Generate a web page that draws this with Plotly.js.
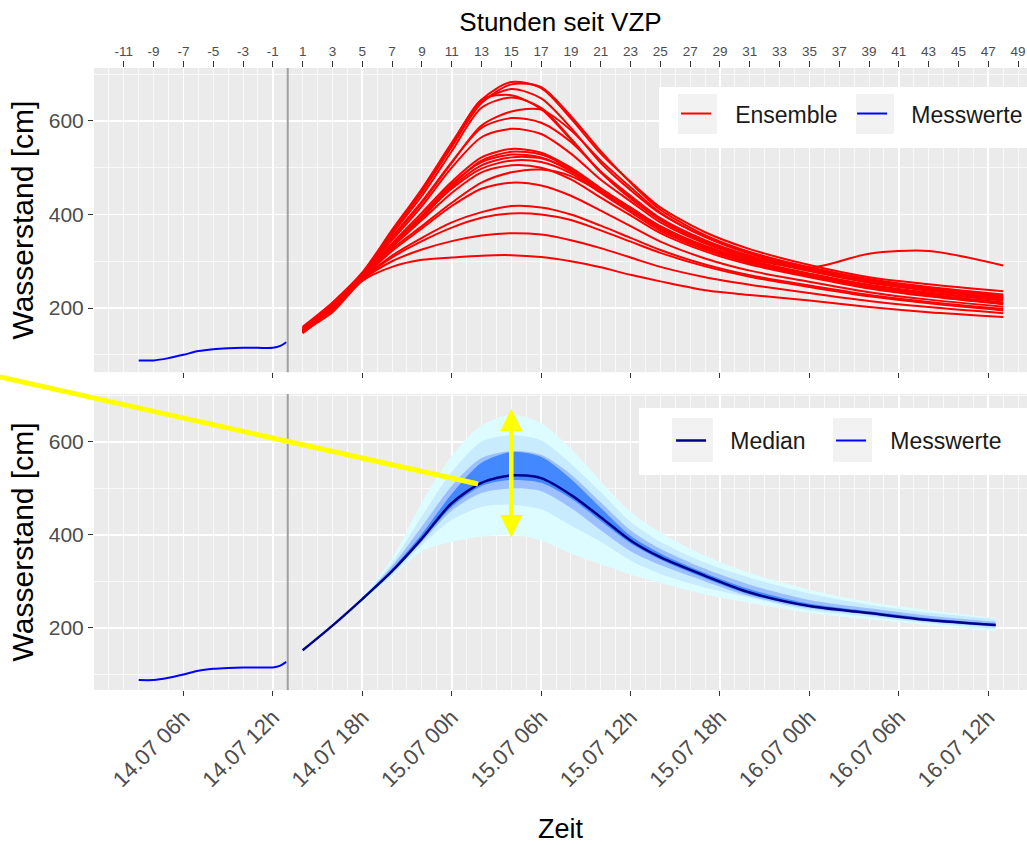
<!DOCTYPE html>
<html>
<head>
<meta charset="utf-8">
<script src="https://cdn.plot.ly/plotly-3.0.1.min.js"></script>
<style>html,body{margin:0;padding:0;background:#fff;}#chart{width:1027px;height:845px;}</style>
</head>
<body>
<div id="chart"></div>
<script>
// ---------------- data (hours relative to VZP = 14.07 13h) ----------------
const vzpHour = 0;

const messHours  = [-10, -9, -8, -7, -6, -5, -4, -3, -2, -1, -0.5, -0.1];
const messValues = [88, 88, 93, 100, 108, 112, 114, 115, 115, 115, 119, 127];

const ensHours = [1, 3, 5, 7, 9, 11, 13, 15, 17, 19, 21, 23, 25, 28, 31, 35, 39, 43, 48];
const ens01 = [160,212,276,367,455,553,645,683,670,605,530,470,415,362,326,292,266,251,236];
const ens02 = [155,207,272,362,448,545,638,678,672,610,535,468,410,356,320,287,262,245,229];
const ens03 = [158,210,274,365,450,545,640,668,648,585,510,452,402,352,318,286,260,243,226];
const ens04 = [152,205,270,360,448,548,645,655,625,560,490,436,390,343,311,281,256,239,222];
const ens05 = [157,209,273,358,440,535,628,650,628,562,490,434,388,341,310,280,255,238,221];
const ens06 = [150,204,268,350,425,510,590,620,624,580,515,458,404,352,316,285,258,240,223];
const ens07 = [156,206,271,352,428,512,585,606,596,555,492,440,392,345,312,283,257,240,224];
const ens08 = [153,203,269,345,418,500,565,583,572,530,474,428,383,338,307,279,254,237,220];
const ens09 = [148,200,266,333,395,462,515,534,528,498,455,415,375,333,305,286,316,322,291];
const ens10 = [151,202,267,335,398,465,512,528,522,492,450,410,370,330,300,272,248,232,216];
const ens11 = [149,201,266,332,392,458,505,522,520,495,452,411,370,329,298,270,246,229,212];
const ens12 = [154,204,268,336,396,455,498,515,512,488,446,405,365,325,296,268,244,227,210];
const ens13 = [147,199,265,330,388,446,490,505,500,475,436,398,360,321,293,266,242,225,208];
const ens14 = [150,200,264,326,375,425,468,490,496,482,448,410,370,328,298,269,244,226,209];
const ens15 = [146,198,263,322,370,418,455,468,462,440,408,375,342,306,280,256,234,218,203];
const ens16 = [152,197,262,312,350,383,405,418,415,400,376,350,324,293,270,248,228,213,198];
const ens17 = [148,196,261,308,343,372,393,402,400,388,366,342,318,289,267,245,225,210,195];
const ens18 = [153,195,260,300,325,343,355,360,357,345,328,308,288,266,250,232,215,202,189];
const ens19 = [150,191,258,288,303,308,312,313,309,300,287,271,257,238,228,216,202,191,181];
const ens20 = [149,201,267,338,404,470,522,540,532,500,456,414,374,332,302,274,250,233,217];
const ensembleMembers = [ens01,ens02,ens03,ens04,ens05,ens06,ens07,ens08,ens09,ens10,
                         ens11,ens12,ens13,ens14,ens15,ens16,ens17,ens18,ens19,ens20];

const bandHours = [1, 3, 5, 7, 9, 11, 13, 15, 17, 19, 21, 23, 25, 28, 31, 35, 39, 43, 47.5];
const medianValues = [152,205,262,322,392,468,512,528,522,486,438,388,352,312,276,247,232,217,206];
const outerUpper = [153,207,268,350,470,570,635,658,640,585,515,450,405,355,318,282,256,238,222];
const outerLower = [151,203,255,310,365,385,396,400,388,360,337,315,297,272,254,232,218,206,192];
const lightUpper = [153,206,266,340,440,535,600,614,603,553,492,428,385,340,308,274,250,233,219];
const lightLower = [151,204,258,313,378,432,460,465,455,420,385,345,316,287,265,238,224,210,198];
const midUpper   = [153,206,264,333,418,505,565,580,572,530,470,410,370,327,293,260,242,226,213];
const midLower   = [152,204,260,318,385,452,490,500,494,458,410,365,335,300,268,242,228,213,202];
const innerUpper = [152,205,263,327,402,488,555,578,568,520,458,398,360,318,283,252,236,221,209];
const innerLower = [152,205,261,320,388,460,505,518,512,478,430,382,347,307,272,245,230,215,204];

const dateTickHours  = [-7, -1, 5, 11, 17, 23, 29, 35, 41, 47];
const dateTickLabels = ['14.07 06h','14.07 12h','14.07 18h','15.07 00h','15.07 06h',
                        '15.07 12h','15.07 18h','16.07 00h','16.07 06h','16.07 12h'];
const hourTickValues = [-11,-9,-7,-5,-3,-1,1,3,5,7,9,11,13,15,17,19,21,23,25,27,29,31,33,35,37,39,41,43,45,47,49];
const yTickValues = [200, 400, 600];

// ---------------- styling ----------------
const FONT = 'Liberation Sans, Arial, sans-serif';
const TICKGREY = '#4D4D4D';
const xRange = [-13.0, 49.6];
const spline = {shape: 'spline', smoothing: 0.8};
const NB = '\u00A0\u00A0\u00A0';

const traces = [];

// top panel: ensemble
ensembleMembers.forEach((vals, i) => {
  traces.push({
    x: ensHours, y: vals, xaxis: 'x', yaxis: 'y', type: 'scatter', mode: 'lines',
    line: Object.assign({color: '#FF0000', width: 2}, spline),
    name: NB + 'Ensemble', legendgroup: 'ens', showlegend: i === 0, legend: 'legend',
    hoverinfo: 'skip'
  });
});
traces.push({
  x: messHours, y: messValues, xaxis: 'x', yaxis: 'y', type: 'scatter', mode: 'lines',
  line: Object.assign({color: '#0000FF', width: 2}, spline),
  name: NB + 'Messwerte', legend: 'legend2'
});
// invisible carrier so that the top "hours" axis is drawn
traces.push({
  x: ensHours, y: ens19, xaxis: 'x3', yaxis: 'y', type: 'scatter', mode: 'lines',
  line: {width: 0}, opacity: 0, showlegend: false, hoverinfo: 'skip'
});

// bottom panel: bands
function band(lower, upper, color) {
  traces.push({x: bandHours, y: lower, xaxis: 'x2', yaxis: 'y2', type: 'scatter', mode: 'lines',
    line: Object.assign({width: 0, color: color}, spline), showlegend: false, hoverinfo: 'skip'});
  traces.push({x: bandHours, y: upper, xaxis: 'x2', yaxis: 'y2', type: 'scatter', mode: 'lines',
    line: Object.assign({width: 0, color: color}, spline), fill: 'tonexty', fillcolor: color,
    showlegend: false, hoverinfo: 'skip'});
}
band(outerLower, outerUpper, '#DDFCFF');
band(lightLower, lightUpper, '#C8ECFD');
band(midLower, midUpper, '#9CBFFF');
band(innerLower, innerUpper, '#4488FF');

traces.push({
  x: bandHours, y: medianValues, xaxis: 'x2', yaxis: 'y2', type: 'scatter', mode: 'lines',
  line: Object.assign({color: '#00008B', width: 2.5}, spline),
  name: NB + 'Median', legend: 'legend3'
});
traces.push({
  x: messHours, y: messValues, xaxis: 'x2', yaxis: 'y2', type: 'scatter', mode: 'lines',
  line: Object.assign({color: '#0000FF', width: 2}, spline),
  name: NB + 'Messwerte', legend: 'legend4'
});

const gridMinor = {tickmode: 'linear', tick0: 0, dtick: 1, showgrid: true, gridcolor: '#FFFFFF', gridwidth: 0.7, ticks: ''};
const yMinor = {tickmode: 'linear', tick0: 100, dtick: 200, showgrid: true, gridcolor: '#FFFFFF', gridwidth: 0.7, ticks: ''};

const baseX = {
  range: xRange, tickmode: 'array', tickvals: dateTickHours, ticktext: dateTickLabels,
  ticks: 'outside', ticklen: 5, tickwidth: 1, tickcolor: '#333333',
  showgrid: true, gridcolor: '#FFFFFF', gridwidth: 1.6, zeroline: false, showline: false,
  minor: gridMinor, tickfont: {family: FONT, size: 22, color: TICKGREY}
};
const baseY = {
  tickmode: 'array', tickvals: yTickValues, ticks: 'outside', ticklen: 5, tickwidth: 1, tickcolor: '#333333',
  showgrid: true, gridcolor: '#FFFFFF', gridwidth: 1.6, zeroline: false, showline: false,
  minor: yMinor, tickfont: {family: FONT, size: 21, color: TICKGREY},
  title: {text: 'Wasserstand [cm]', font: {family: FONT, size: 30, color: '#000'}, standoff: 6}
};

// legends and their decoration boxes (paper coordinates)
const legendFont = {family: FONT, size: 23, color: '#1A1A1A'};
const mkLegend = (x, y) => ({orientation: 'h', x: x, xanchor: 'left', y: y, yanchor: 'top',
  bgcolor: 'rgba(0,0,0,0)', borderwidth: 0, font: legendFont, itemwidth: 30});
const boxShape = (x0, x1, y0, y1, color) => ({type: 'rect', xref: 'paper', yref: 'paper',
  x0: x0, x1: x1, y0: y0, y1: y1, fillcolor: color, line: {width: 0}, layer: 'above'});

const layout = {
  width: 1027, height: 845,
  margin: {l: 94, r: 0, t: 68, b: 155, autoexpand: false},
  paper_bgcolor: '#FFFFFF', plot_bgcolor: '#EBEBEB',
  font: {family: FONT},
  xaxis: Object.assign({}, baseX, {anchor: 'y', showticklabels: false}),
  xaxis2: Object.assign({}, baseX, {anchor: 'y2', matches: 'x', tickangle: -45,
    title: {text: 'Zeit', font: {family: FONT, size: 27, color: '#000'}, standoff: 28}}),
  xaxis3: {
    overlaying: 'x', side: 'top', anchor: 'y', range: xRange,
    tickmode: 'array', tickvals: hourTickValues, ticktext: hourTickValues.map(String),
    ticks: 'outside', ticklen: 6, tickwidth: 1, tickcolor: '#333333',
    showgrid: false, zeroline: false, showline: false,
    tickfont: {family: FONT, size: 13.5, color: TICKGREY},
    title: {text: 'Stunden seit VZP', font: {family: FONT, size: 26, color: '#000'}, standoff: 4}
  },
  yaxis: Object.assign({}, baseY, {domain: [0.511, 1], range: [63, 713], anchor: 'x'}),
  yaxis2: Object.assign({}, baseY, {domain: [0, 0.476], range: [66.5, 703], anchor: 'x2'}),
  legend:  mkLegend(0.6238, 0.9613),
  legend2: mkLegend(0.8125, 0.9613),
  legend3: mkLegend(0.6185, 0.4356),
  legend4: mkLegend(0.7900, 0.4356),
  shapes: [
    {type: 'line', xref: 'x', yref: 'y domain', x0: vzpHour, x1: vzpHour, y0: 0, y1: 1,
     line: {color: '#A0A0A0', width: 2}, layer: 'above'},
    {type: 'line', xref: 'x2', yref: 'y2 domain', x0: vzpHour, x1: vzpHour, y0: 0, y1: 1,
     line: {color: '#A0A0A0', width: 2}, layer: 'above'},
    {type: 'line', xref: 'paper', yref: 'paper', x0: -0.1008, y0: 0.5032, x1: 0.4116, y1: 0.3312,
     line: {color: '#FFFF00', width: 5}, layer: 'above'},
    // top legend background + key boxes
    boxShape(0.6056, 1.0, 0.8714, 0.9695, '#FFFFFF'),
    boxShape(0.6259, 0.6677, 0.8939, 0.9582, '#F2F2F2'),
    boxShape(0.8167, 0.8574, 0.8939, 0.9582, '#F2F2F2'),
    // bottom legend background + key boxes
    boxShape(0.5841, 1.0, 0.3457, 0.4534, '#FFFFFF'),
    boxShape(0.6195, 0.6635, 0.3666, 0.4373, '#F2F2F2'),
    boxShape(0.7921, 0.8339, 0.3666, 0.4373, '#F2F2F2')
  ],
  annotations: [
    {xref: 'x2', yref: 'y2', axref: 'x2', ayref: 'y2', x: 15, y: 671, ax: 15, ay: 391,
     text: '', showarrow: true, arrowside: 'end+start', arrowhead: 2, arrowsize: 1,
     arrowwidth: 4.5, arrowcolor: '#FFFF00', standoff: 0, startstandoff: 0}
  ]
};

Plotly.newPlot('chart', traces, layout, {staticPlot: true, displayModeBar: false});
</script>
</body>
</html>
